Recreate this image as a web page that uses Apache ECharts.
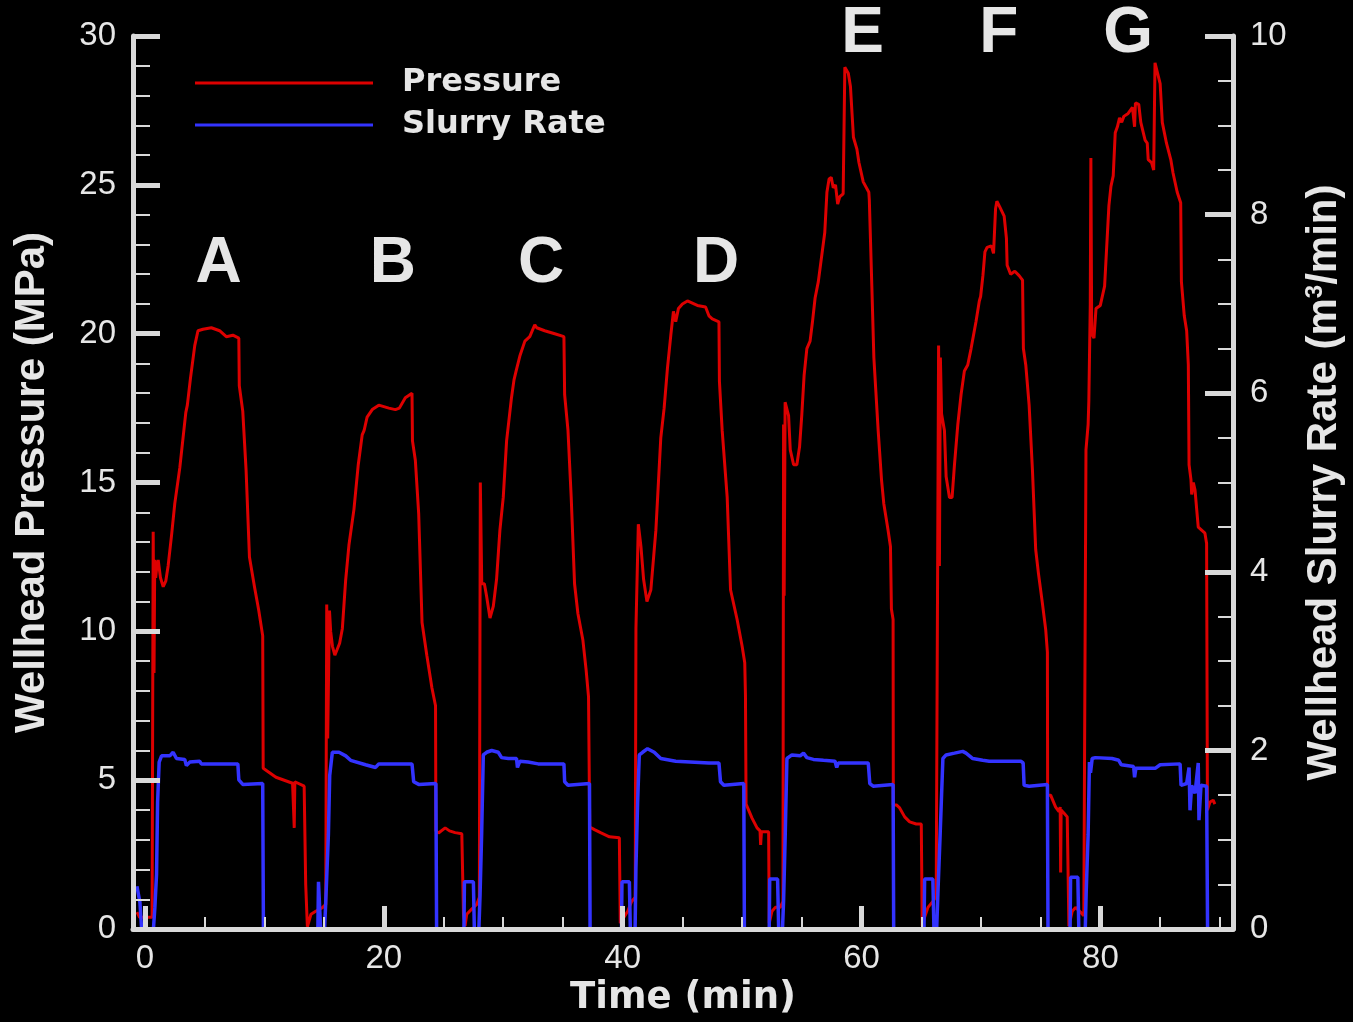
<!DOCTYPE html>
<html>
<head>
<meta charset="utf-8">
<script src="https://cdn.jsdelivr.net/npm/echarts@6/dist/echarts.min.js"></script>
<style>
html,body{margin:0;padding:0;background:#000;overflow:hidden;width:1353px;height:1022px;}
#chart{position:absolute;left:0;top:0;width:1353px;height:1022px;}
</style>
</head>
<body>
<div id="chart"></div>
<script>
// ---- data: time (min) vs wellhead pressure (MPa), one array per stage ----
const pressureA = [[-0.67,0.57],[-0.45,0.4],[0.6,0.4],[0.67,0.4],[0.69,13.35],[0.76,8.6],[0.82,12.4],[0.9,11.8],[1.0,12.2],[1.11,12.4],[1.3,11.8],[1.53,11.5],[1.75,11.7],[1.94,12.2],[2.22,13.2],[2.5,14.3],[2.92,15.5],[3.19,16.5],[3.42,17.35],[3.55,17.6],[3.81,18.5],[4.17,19.6],[4.44,20.1],[4.86,20.15],[5.56,20.2],[6.25,20.1],[6.81,19.9],[7.36,19.95],[7.86,19.85],[7.9,18.25],[8.19,17.4],[8.47,15.4],[8.75,12.5],[9.17,11.5],[9.53,10.7],[9.86,9.85],[9.9,5.4],[10.97,5.1],[12.36,4.9],[12.45,4.9],[12.5,3.4],[12.55,4.95],[12.64,4.95],[13.33,4.8],[13.46,1.5],[13.6,0.08],[13.9,0.5],[14.3,0.6],[14.86,0.72],[15.14,0.83]];
const pressureB = [[15.22,10.9],[15.3,6.4],[15.45,10.7],[15.55,10.0],[15.7,9.5],[15.9,9.2],[16.03,9.2],[16.3,9.6],[16.53,10.1],[16.8,11.7],[17.08,12.9],[17.5,14.1],[17.86,15.6],[18.19,16.6],[18.35,16.75],[18.6,17.2],[19.03,17.45],[19.58,17.6],[20.0,17.55],[20.42,17.5],[20.97,17.45],[21.3,17.5],[21.8,17.85],[22.36,18.0],[22.4,16.4],[22.64,15.75],[22.92,13.95],[23.2,10.3],[23.6,9.2],[24.03,8.1],[24.33,7.5],[24.36,3.3],[24.58,3.23],[25.14,3.4],[25.5,3.3],[25.97,3.24],[26.53,3.2],[26.67,0.5],[26.8,0.1],[26.94,0.5],[27.36,0.67],[27.78,0.83],[28.0,1.07]];
const pressureC = [[28.08,15.0],[28.14,15.0],[28.2,11.6],[28.42,11.6],[28.6,11.2],[28.89,10.45],[29.17,10.85],[29.44,11.75],[29.72,13.4],[30.0,14.5],[30.28,16.4],[30.69,17.85],[30.9,18.45],[31.11,18.8],[31.39,19.25],[31.81,19.75],[32.22,19.9],[32.64,20.3],[32.8,20.2],[33.47,20.1],[34.31,20.0],[35.08,19.9],[35.14,17.95],[35.42,16.75],[35.69,14.5],[35.97,11.6],[36.25,10.6],[36.67,9.7],[36.94,8.7],[37.14,7.8],[37.2,7.8],[37.24,3.43],[37.64,3.34],[38.19,3.23],[38.89,3.1],[39.72,3.07],[39.8,0.2],[40.0,0.33],[40.42,0.6],[40.75,0.93],[41.05,1.07]];
const pressureD = [[41.11,10.1],[41.31,13.6],[41.53,12.85],[41.75,11.75],[42.03,11.0],[42.36,11.4],[42.78,13.4],[43.19,16.5],[43.47,17.5],[43.75,18.85],[44.03,19.95],[44.25,20.75],[44.44,20.4],[44.67,20.85],[45.0,21.0],[45.42,21.1],[46.25,20.95],[46.94,20.9],[47.22,20.6],[47.5,20.5],[48.06,20.4],[48.1,18.4],[48.33,16.75],[48.75,14.5],[49.03,11.4],[49.58,10.4],[50.0,9.5],[50.22,8.95],[50.28,7.85],[50.33,4.2],[50.42,4.17],[50.83,3.73],[51.25,3.4],[51.5,3.3],[51.55,2.83],[51.62,3.27],[52.22,3.27],[52.27,0.2],[52.5,0.6],[52.78,0.73],[53.19,0.73],[53.42,0.93]];
const pressureE = [[53.47,16.95],[53.52,11.2],[53.6,17.7],[53.89,17.25],[54.03,16.1],[54.31,15.6],[54.58,15.6],[54.81,16.2],[55.0,17.3],[55.19,18.6],[55.42,19.5],[55.69,19.75],[55.89,20.4],[56.11,21.2],[56.38,21.75],[56.92,23.4],[57.1,24.75],[57.28,25.2],[57.46,25.25],[57.63,24.9],[57.82,25.0],[58.0,24.35],[58.17,24.6],[58.46,24.7],[58.6,28.95],[58.71,28.9],[58.89,28.75],[59.07,28.3],[59.32,26.6],[59.61,26.2],[59.78,25.75],[60.14,25.1],[60.61,24.75],[60.65,24.5],[60.86,21.6],[61.03,19.2],[61.39,16.75],[61.67,15.1],[61.86,14.3],[62.22,13.4],[62.42,12.85],[62.5,10.75],[62.64,10.4],[62.66,4.17],[62.92,4.17],[63.19,4.07],[63.61,3.77],[64.03,3.6],[64.58,3.53],[65.0,3.53],[65.08,0.1],[65.28,0.4],[65.56,0.73],[65.97,0.93],[66.25,1.1],[66.39,1.1]];
const pressureF = [[66.45,19.6],[66.52,12.2],[66.6,19.2],[66.7,17.3],[66.94,16.75],[67.08,15.2],[67.36,14.5],[67.58,14.5],[67.78,15.6],[68.06,16.95],[68.33,17.95],[68.61,18.75],[68.89,18.95],[69.17,19.5],[69.58,20.4],[69.86,21.1],[69.97,21.25],[70.16,21.95],[70.33,22.75],[70.51,22.9],[70.87,22.95],[71.05,22.7],[71.22,24.2],[71.33,24.45],[71.58,24.25],[71.94,23.95],[72.13,23.2],[72.19,22.3],[72.48,22.0],[72.83,22.1],[73.19,21.95],[73.48,21.8],[73.55,19.5],[73.75,18.95],[74.03,17.6],[74.31,15.4],[74.58,12.75],[74.81,11.95],[75.14,10.95],[75.42,10.05],[75.56,9.3],[75.58,4.5],[75.83,4.5],[76.25,4.1],[76.53,3.95],[76.63,4.1],[76.67,1.9],[76.71,4.0],[76.94,3.9],[77.22,3.77],[77.36,0.1],[77.64,0.6],[77.92,0.73],[78.33,0.57],[78.61,0.45],[78.75,0.45]];
const pressureG = [[78.79,16.1],[78.97,16.95],[79.03,17.75],[79.15,21.0],[79.2,25.9],[79.27,20.0],[79.46,19.85],[79.63,20.85],[79.99,20.95],[80.35,21.6],[80.71,24.3],[80.88,24.95],[81.07,25.3],[81.24,26.75],[81.42,26.95],[81.6,27.25],[81.78,27.1],[81.96,27.3],[82.32,27.4],[82.68,27.6],[82.86,26.95],[82.93,27.75],[83.21,27.7],[83.38,27.1],[83.74,26.5],[83.92,26.4],[84.0,25.85],[84.28,25.75],[84.46,25.5],[84.57,29.1],[84.71,29.15],[85.0,28.4],[85.18,27.1],[85.53,26.4],[85.89,25.85],[86.08,25.4],[86.43,24.75],[86.72,24.4],[86.78,21.75],[87.02,20.6],[87.22,20.1],[87.36,18.95],[87.42,15.6],[87.58,15.1],[87.64,14.6],[87.78,15.0],[87.92,14.75],[88.06,14.1],[88.19,13.5],[88.47,13.4],[88.75,13.3],[88.89,12.95],[88.96,4.0],[89.17,4.27],[89.44,4.33],[89.58,4.2]];

// ---- data: time (min) vs wellhead slurry rate (m3/min), one array per stage ----
const rateA = [[-0.67,0.48],[-0.56,0.48],[-0.42,0.3],[-0.28,0],[0.71,0],[0.83,0.24],[0.97,0.61],[1.06,1.42],[1.19,1.87],[1.39,1.94],[2.08,1.94],[2.36,1.98],[2.64,1.91],[3.33,1.9],[3.47,1.83],[3.75,1.87],[4.58,1.88],[4.72,1.85],[7.78,1.85],[7.86,1.67],[8.19,1.62],[9.86,1.63],[9.92,0],[14.48,0],[14.53,0.53],[14.67,0.53],[14.71,0],[15.04,0]];
const rateB = [[15.14,0.31],[15.36,1.06],[15.47,1.72],[15.69,1.98],[16.25,1.98],[16.81,1.94],[17.22,1.89],[18.47,1.84],[19.31,1.81],[19.58,1.85],[22.36,1.85],[22.5,1.65],[22.92,1.62],[24.36,1.63],[24.42,0],[26.71,0],[26.75,0.53],[27.5,0.53],[27.58,0],[27.96,0]];
const rateC = [[28.06,0.39],[28.19,1.06],[28.33,1.95],[28.61,1.98],[29.03,2.0],[29.58,1.98],[29.86,1.92],[30.42,1.91],[31.11,1.91],[31.19,1.81],[31.39,1.88],[32.08,1.87],[32.92,1.85],[35.08,1.85],[35.14,1.65],[35.42,1.61],[37.22,1.63],[37.27,0],[39.9,0],[39.94,0.53],[40.56,0.53],[40.64,0],[41.04,0]];
const rateD = [[41.11,0.69],[41.25,1.42],[41.39,1.95],[41.67,1.98],[42.08,2.02],[42.64,1.98],[43.19,1.91],[44.44,1.88],[47.22,1.86],[48.06,1.86],[48.19,1.65],[48.47,1.61],[50.14,1.63],[50.19,0],[52.27,0],[52.31,0.56],[52.97,0.56],[53.06,0],[53.38,0]];
const rateE = [[53.47,0.31],[53.61,1.06],[53.75,1.91],[54.17,1.95],[54.86,1.94],[55.14,1.97],[55.42,1.92],[55.97,1.9],[56.81,1.89],[57.78,1.88],[57.92,1.81],[58.06,1.86],[60.56,1.86],[60.69,1.63],[60.97,1.6],[62.64,1.62],[62.69,0],[65.23,0],[65.28,0.56],[65.97,0.56],[66.06,0],[66.29,0]];
const rateF = [[66.39,0.39],[66.58,1.06],[66.81,1.91],[67.08,1.95],[67.78,1.97],[68.47,1.99],[68.75,1.97],[69.31,1.91],[70.14,1.89],[70.69,1.88],[73.33,1.88],[73.53,1.86],[73.61,1.61],[74.03,1.6],[75.56,1.62],[75.61,0],[77.46,0],[77.5,0.58],[78.11,0.58],[78.19,0],[78.73,0]];
const rateG = [[78.81,0.42],[78.97,1.06],[79.08,1.87],[79.17,1.75],[79.31,1.91],[79.58,1.92],[80.97,1.91],[81.53,1.89],[81.75,1.84],[82.78,1.82],[82.86,1.7],[82.97,1.8],[84.58,1.8],[85.0,1.84],[86.67,1.85],[86.75,1.61],[87.22,1.63],[87.42,1.81],[87.5,1.33],[87.64,1.61],[87.92,1.52],[88.19,1.86],[88.25,1.22],[88.42,1.61],[88.89,1.6],[88.97,0],[89.08,0]];

// ---- stage labels ----
const stageNames = ['A','B','C','D','E','F','G'];
const stageLabelTime = [6.17, 20.75, 33.17, 47.83, 60.08, 71.5, 82.33];
const stageLabelPressure = [22.42, 22.42, 22.42, 22.42, 30.17, 30.17, 30.17];

// ---- ticks ----
const timeMajorTicks = [0, 20, 40, 60, 80];
const timeMinorTicks = [5, 10, 15, 25, 30, 35, 45, 50, 55, 65, 70, 75, 85, 90];

const pressureData = [].concat(pressureA, pressureB, pressureC, pressureD, pressureE, pressureF, pressureG);
const rateData = [].concat(rateA, rateB, rateC, rateD, rateE, rateF, rateG);
const stageData = stageNames.map((n, i) => [stageLabelTime[i], stageLabelPressure[i], n]);

const FG = '#e6e6e6';
const AX = '#d9d9d9';
const RED = '#dd0000';
const BLUE = '#3333ff';

const chart = echarts.init(document.getElementById('chart'), null, {renderer: 'canvas', width: 1353, height: 1022});
chart.setOption({
  backgroundColor: '#000',
  animation: false,
  grid: {left: 133, right: 115, top: 36, bottom: 87, containLabel: false},
  legend: {
    orient: 'vertical',
    left: 195, top: 67, padding: 0,
    itemWidth: 178, itemHeight: 3, itemGap: 10,
    icon: 'rect',
    data: ['Pressure', 'Slurry Rate'],
    textStyle: {color: FG, fontFamily: 'DejaVu Sans', fontWeight: 'bold', fontSize: 32, lineHeight: 32, padding: [0, 0, 0, 24]}
  },
  xAxis: [{
    type: 'value', min: -1, max: 91.1, position: 'bottom', z: 5,
    name: 'Time (min)', nameLocation: 'middle', nameGap: 45,
    nameTextStyle: {color: FG, fontFamily: 'DejaVu Sans', fontWeight: 'bold', fontSize: 37},
    axisLine: {show: true, onZero: false, lineStyle: {color: AX, width: 5}},
    axisTick: {show: true, inside: true, length: 23, customValues: timeMajorTicks, lineStyle: {color: AX, width: 5}},
    axisLabel: {show: true, customValues: timeMajorTicks, margin: 13, color: FG, fontFamily: 'Liberation Sans', fontSize: 33},
    splitLine: {show: false}
  }, {
    type: 'value', min: -1, max: 91.1, position: 'bottom', offset: 0, z: 5,
    axisLine: {show: false, onZero: false},
    axisTick: {show: true, inside: true, length: 12, customValues: timeMinorTicks, lineStyle: {color: AX, width: 2}},
    axisLabel: {show: false},
    splitLine: {show: false}
  }],
  yAxis: [{
    type: 'value', min: 0, max: 30, interval: 5, position: 'left', z: 5,
    name: 'Wellhead Pressure (MPa)', nameLocation: 'middle', nameGap: 80, nameRotate: 90,
    nameTextStyle: {color: FG, fontFamily: 'Liberation Sans', fontWeight: 'bold', fontSize: 42},
    axisLine: {show: true, onZero: false, lineStyle: {color: AX, width: 5}},
    axisTick: {show: true, inside: true, length: 27, lineStyle: {color: AX, width: 5}},
    minorTick: {show: true, splitNumber: 5, length: 17, lineStyle: {color: AX, width: 2}},
    axisLabel: {margin: 17, color: FG, fontFamily: 'Liberation Sans', fontSize: 33},
    splitLine: {show: false}
  }, {
    type: 'value', min: 0, max: 10, interval: 2, position: 'right', z: 5,
    name: '{t|Wellhead Slurry Rate (m}{s|3}{t|/min)}', nameLocation: 'middle', nameGap: 70, nameRotate: 90,
    nameTextStyle: {color: FG, rich: {
      t: {color: FG, fontFamily: 'Liberation Sans', fontWeight: 'bold', fontSize: 42},
      s: {color: FG, fontFamily: 'Liberation Sans', fontWeight: 'bold', fontSize: 24, verticalAlign: 'top', padding: [0, 0, 14, 0]}
    }},
    axisLine: {show: true, onZero: false, lineStyle: {color: AX, width: 5}},
    axisTick: {show: true, inside: true, length: 28, lineStyle: {color: AX, width: 5}},
    minorTick: {show: true, splitNumber: 4, length: 15, lineStyle: {color: AX, width: 2}},
    axisLabel: {margin: 17, color: FG, fontFamily: 'Liberation Sans', fontSize: 33},
    splitLine: {show: false}
  }],
  series: [{
    name: 'Pressure', type: 'line', xAxisIndex: 0, yAxisIndex: 0,
    data: pressureData, showSymbol: false, symbol: 'none',
    lineStyle: {color: RED, width: 3}, itemStyle: {color: RED}
  }, {
    name: 'Slurry Rate', type: 'line', xAxisIndex: 0, yAxisIndex: 1,
    data: rateData, showSymbol: false, symbol: 'none',
    lineStyle: {color: BLUE, width: 3.5}, itemStyle: {color: BLUE}
  }, {
    name: 'stages', type: 'scatter', xAxisIndex: 0, yAxisIndex: 0,
    data: stageData, symbolSize: 0, clip: false, silent: true,
    itemStyle: {opacity: 1},
    label: {show: true, position: 'inside', offset: [0, 3], formatter: p => p.value[2],
      color: FG, fontFamily: 'Liberation Sans', fontWeight: 'bold', fontSize: 64}
  }]
});
</script>
</body>
</html>
